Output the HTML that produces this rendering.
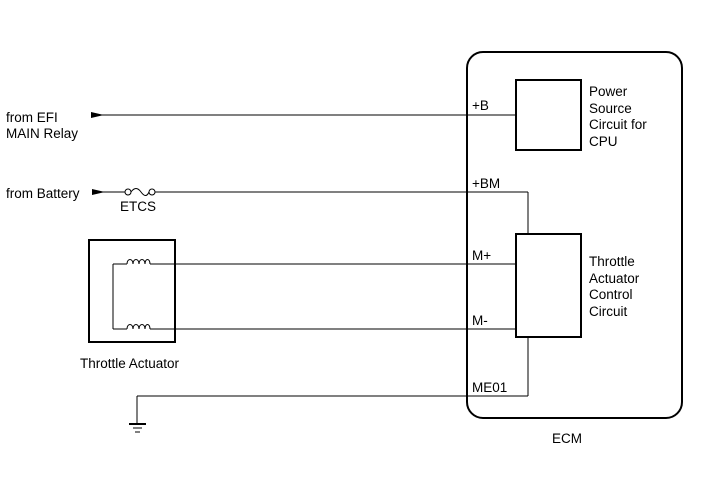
<!DOCTYPE html>
<html><head><meta charset="utf-8"><style>
html,body{margin:0;padding:0;background:#fff;}
svg{display:block;}
text{font-family:"Liberation Sans",Arial,sans-serif;font-size:13.5px;fill:#000;}
</style></head><body>
<svg width="713" height="481" viewBox="0 0 713 481" xmlns="http://www.w3.org/2000/svg">
<rect x="467" y="52" width="215" height="366" rx="16" ry="16" fill="none" stroke="#000" stroke-width="2"/>
<rect x="516" y="80" width="65" height="70" fill="none" stroke="#000" stroke-width="2"/>
<rect x="516" y="234" width="65" height="103" fill="none" stroke="#000" stroke-width="2"/>
<rect x="89" y="240" width="86" height="102" fill="none" stroke="#000" stroke-width="2"/>
<g stroke="#000" stroke-width="1" fill="none">
<line x1="92" y1="115" x2="516" y2="115"/>
<line x1="92" y1="192" x2="125" y2="192"/>
<line x1="155" y1="192" x2="528" y2="192"/>
<line x1="528" y1="192" x2="528" y2="234"/>
<line x1="113" y1="264" x2="127" y2="264"/>
<line x1="150" y1="264" x2="516" y2="264"/>
<line x1="113" y1="329" x2="127" y2="329"/>
<line x1="150" y1="329" x2="516" y2="329"/>
<line x1="113" y1="264" x2="113" y2="329"/>
<line x1="528" y1="337" x2="528" y2="396"/>
<line x1="137" y1="396" x2="528" y2="396"/>
<line x1="137" y1="396" x2="137" y2="423"/>
<circle cx="128" cy="192" r="3"/>
<circle cx="152" cy="192" r="3"/>
<path d="M131 192 q5 -7 10 0 q5 7 8 0"/>
<path d="M127 264 c0 -6 6 -6 6 0 c0 -6 6 -6 6 0 c0 -6 6 -6 6 0 c0 -6 5 -6 5 0"/>
<path d="M127 329 c0 -6 6 -6 6 0 c0 -6 6 -6 6 0 c0 -6 6 -6 6 0 c0 -6 5 -6 5 0"/>
</g>
<line x1="129" y1="424" x2="146" y2="424" stroke="#000" stroke-width="2"/>
<line x1="133" y1="428" x2="142" y2="428" stroke="#000" stroke-width="1"/>
<line x1="135" y1="432" x2="140" y2="432" stroke="#000" stroke-width="1"/>
<polygon points="91,112 104,115 91,118" fill="#000"/>
<polygon points="92,189 105,192 92,195" fill="#000"/>
<text x="6" y="122">from EFI</text>
<text x="6" y="138">MAIN Relay</text>
<text x="6" y="198">from Battery</text>
<text x="120" y="211">ETCS</text>
<text x="80" y="368">Throttle Actuator</text>
<text x="472" y="110">+B</text>
<text x="472" y="188">+BM</text>
<text x="472" y="260">M+</text>
<text x="472" y="325">M-</text>
<text x="472" y="392">ME01</text>
<text x="589" y="96">Power</text>
<text x="589" y="113">Source</text>
<text x="589" y="129">Circuit for</text>
<text x="589" y="146">CPU</text>
<text x="589" y="266">Throttle</text>
<text x="589" y="283">Actuator</text>
<text x="589" y="299">Control</text>
<text x="589" y="316">Circuit</text>
<text x="552" y="443">ECM</text>
</svg>
</body></html>
